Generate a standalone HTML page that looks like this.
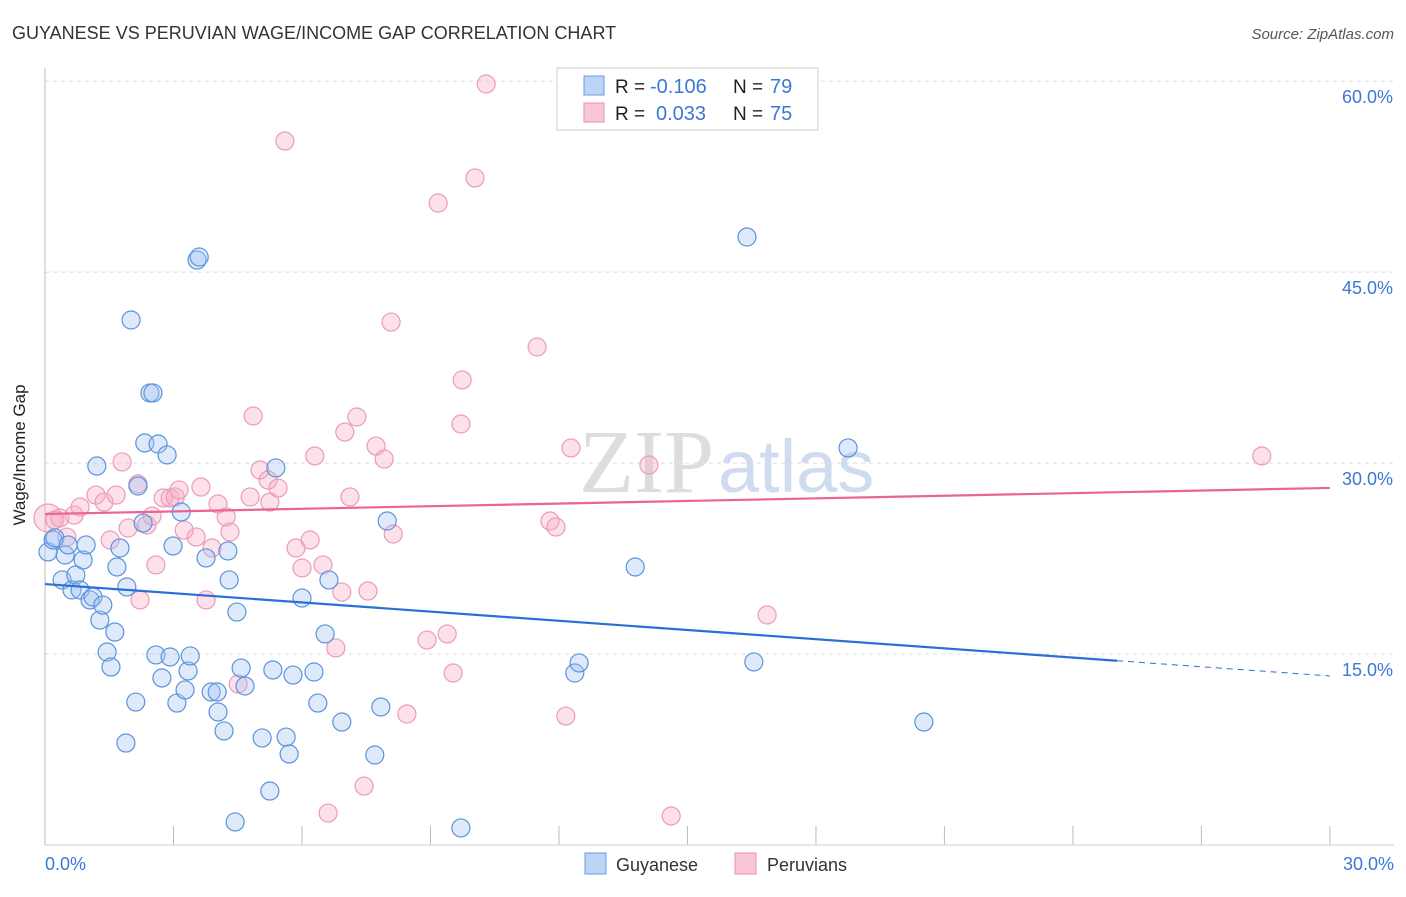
<!DOCTYPE html>
<html><head><meta charset="utf-8"><style>
body{margin:0;background:#fff;font-family:"Liberation Sans",sans-serif}
</style></head><body>
<svg width="1406" height="892" xmlns="http://www.w3.org/2000/svg">
<text x="12" y="39" font-size="18" fill="#333">GUYANESE VS PERUVIAN WAGE/INCOME GAP CORRELATION CHART</text>
<text x="1394" y="39" font-size="15" fill="#555" text-anchor="end" font-style="italic">Source: ZipAtlas.com</text>
<g id="grid"></g>
<text x="714" y="492" font-size="90" fill="#ddd" text-anchor="end" font-family="Liberation Serif">ZIP</text>
<text x="718" y="492" font-size="74" fill="#cfdcef">atlas</text>
<g id="pts"></g>
<g id="trend"></g>
<text x="25" y="455" font-size="17" fill="#222" text-anchor="middle" transform="rotate(-90 25 455)">Wage/Income Gap</text>
<text x="45" y="870" font-size="18" fill="#3b78d6">0.0%</text>
<text x="1394" y="870" font-size="18" fill="#3b78d6" text-anchor="end">30.0%</text>
<g>
<rect x="557" y="68" width="261" height="62" fill="#fff" stroke="#ccc"/>
<rect x="584" y="76" width="20" height="19" fill="#bcd4f6" stroke="#6a9be0"/>
<rect x="584" y="103" width="20" height="19" fill="#f9c6d6" stroke="#ea8faf"/>
<text x="615" y="93" font-size="19" fill="#222">R =</text>
<text x="650" y="93" font-size="20" fill="#3b78d6">-0.106</text>
<text x="733" y="93" font-size="19" fill="#222">N =</text>
<text x="770" y="93" font-size="20" fill="#3b78d6">79</text>
<text x="615" y="120" font-size="19" fill="#222">R =</text>
<text x="656" y="120" font-size="20" fill="#3b78d6">0.033</text>
<text x="733" y="120" font-size="19" fill="#222">N =</text>
<text x="770" y="120" font-size="20" fill="#3b78d6">75</text>
</g>
<g>
<rect x="585" y="853" width="21" height="21" fill="#bcd4f6" stroke="#6a9be0"/>
<text x="616" y="871" font-size="18" fill="#333">Guyanese</text>
<rect x="735" y="853" width="21" height="21" fill="#f9c6d6" stroke="#ea8faf"/>
<text x="767" y="871" font-size="18" fill="#333">Peruvians</text>
</g>
</svg>
<script>
const yTicks=[15,30,45,60];
const yTickLabels=["15.0%","30.0%","45.0%","60.0%"];
const xTicks=[0,3,6,9,12,15,18,21,24,27,30];
const bluePx=[[48,552],[53,540],[55,538],[62,580],[65,555],[68,545],[72,590],[76,575],[80,590],[83,560],[86,545],[90,600],[93,597],[97,466],[100,620],[103,605],[107,652],[111,667],[115,632],[117,567],[120,548],[126,743],[127,587],[131,320],[136,702],[138,486],[143,523],[145,443],[150,393],[153,393],[156,655],[158,444],[162,678],[167,455],[170,657],[173,546],[177,703],[181,512],[185,690],[188,671],[190,656],[197,260],[199,257],[206,558],[211,692],[217,692],[218,712],[224,731],[228,551],[229,580],[235,822],[237,612],[241,668],[245,686],[262,738],[270,791],[273,670],[276,468],[286,737],[289,754],[293,675],[302,598],[314,672],[318,703],[325,634],[329,580],[342,722],[375,755],[381,707],[387,521],[461,828],[575,673],[579,663],[635,567],[747,237],[754,662],[848,448],[924,722]];
const pinkPx=[[48,518],[55,520],[60,518],[67,537],[74,515],[80,507],[96,495],[104,502],[110,540],[116,495],[122,462],[128,528],[138,484],[140,600],[147,525],[152,516],[156,565],[163,498],[170,498],[175,497],[179,490],[184,530],[196,537],[201,487],[206,600],[212,548],[218,504],[226,517],[230,532],[238,684],[250,497],[253,416],[260,470],[268,480],[270,502],[278,488],[285,141],[296,548],[302,568],[310,540],[315,456],[323,565],[328,813],[336,648],[342,592],[345,432],[350,497],[357,417],[368,591],[364,786],[376,446],[384,459],[391,322],[393,534],[407,714],[427,640],[438,203],[447,634],[453,673],[461,424],[462,380],[475,178],[486,84],[537,347],[550,521],[556,527],[566,716],[571,448],[649,465],[671,816],[767,615],[1262,456]];
const toVal=p=>[+((p[0]-45)/42.83).toFixed(2),+((845-p[1])/12.73).toFixed(2)];
const guyX=bluePx.map(p=>toVal(p)[0]), guyY=bluePx.map(p=>toVal(p)[1]);
const perX=pinkPx.map(p=>toVal(p)[0]), perY=pinkPx.map(p=>toVal(p)[1]);
const blueTrend=[20.5,13.28], pinkTrend=[26.0,28.05], blueSolidEnd=25.03;
const X=v=>45+v*42.83, Y=v=>845-v*12.73;
const NS="http://www.w3.org/2000/svg";
function mk(t,a,par){const e=document.createElementNS(NS,t);for(const k in a)e.setAttribute(k,a[k]);document.getElementById(par).appendChild(e);return e;}
yTicks.forEach((t,i)=>{
 const l=mk('line',{x1:45,x2:1394,y1:Y(t),y2:Y(t),stroke:'#ddd','stroke-dasharray':'4,4'},'grid');
 
 
 const tx=mk('text',{x:1393,y:Y(t)+22,'font-size':18,fill:'#3b78d6','text-anchor':'end'},'grid');
 tx.textContent=yTickLabels[i];
 
 
});
xTicks.forEach(t=>{
 const l=mk('line',{x1:X(t),x2:X(t),y1:826,y2:845,stroke:'#bbb'},'grid');
 
 
});
const ax=mk('line',{x1:45,x2:45,y1:68,y2:845,stroke:'#bbb'},'grid');


const bx=mk('line',{x1:45,x2:1394,y1:845,y2:845,stroke:'#ccc'},'grid');


perX.forEach((x,i)=>{
 const c=mk('circle',{cx:X(x),cy:Y(perY[i]),r:i==0?14:9,fill:'rgba(246,170,195,0.35)',stroke:'#ec9bb8','stroke-width':1.2},'pts');
 
 
});
guyX.forEach((x,i)=>{
 const c=mk('circle',{cx:X(x),cy:Y(guyY[i]),r:9,fill:'rgba(160,195,240,0.35)',stroke:'#5b93dc','stroke-width':1.2},'pts');
 
 
});
const bAt=x=>blueTrend[0]+(blueTrend[1]-blueTrend[0])*x/30;
let t1=mk('line',{x1:X(0),y1:Y(bAt(0)),x2:X(blueSolidEnd),y2:Y(bAt(blueSolidEnd)),stroke:'#2a6fd6','stroke-width':2.2},'trend');


let t2=mk('line',{x1:X(blueSolidEnd),y1:Y(bAt(blueSolidEnd)),x2:X(30),y2:Y(bAt(30)),stroke:'#2a6fd6','stroke-width':1,'stroke-dasharray':'6,5'},'trend');


let t3=mk('line',{x1:X(0),y1:Y(pinkTrend[0]),x2:X(30),y2:Y(pinkTrend[1]),stroke:'#e8668f','stroke-width':2.2},'trend');


</script>
</body></html>
